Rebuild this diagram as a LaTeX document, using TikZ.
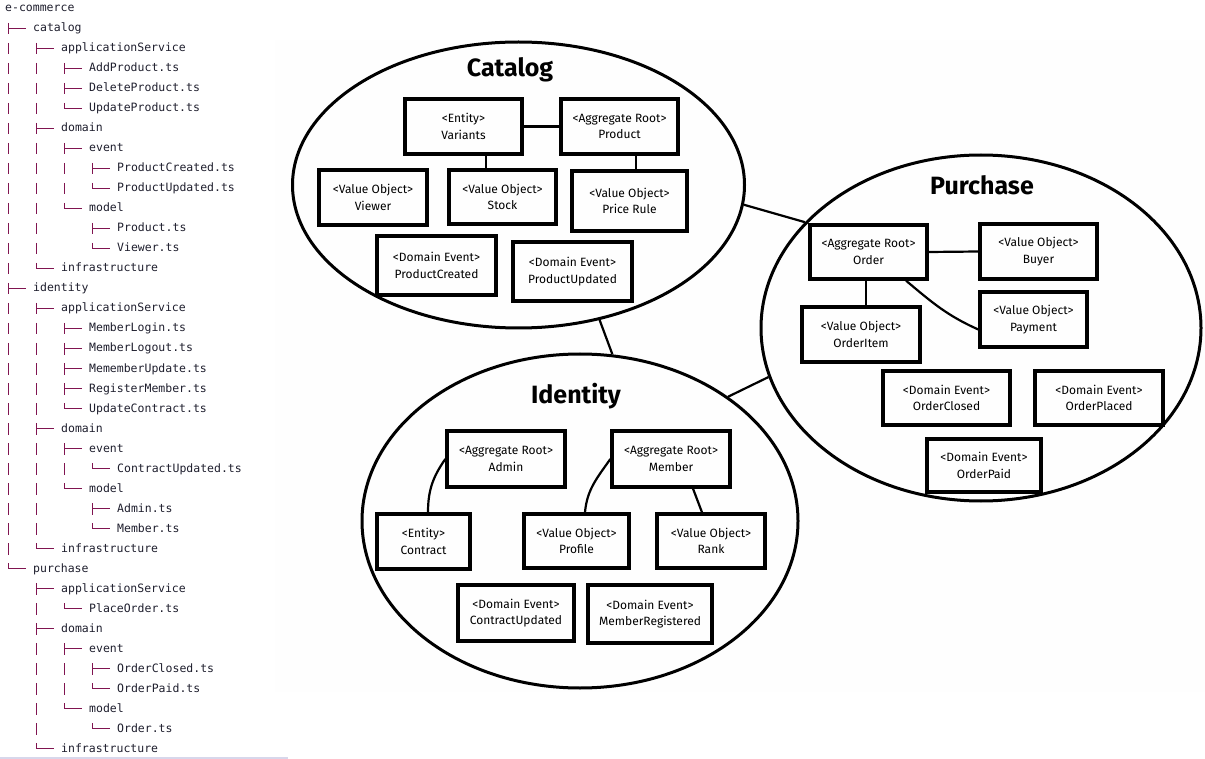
\documentclass[tikz,border=0pt]{standalone}
\usepackage{fontspec}
\setmainfont{Fira Sans}
\newfontfamily\treefont{DejaVu Sans Mono}
\usetikzlibrary{shapes.geometric,calc}
\definecolor{treecol}{RGB}{128,20,80}
\definecolor{txtcol}{RGB}{30,30,45}
\definecolor{bgcol}{RGB}{254,254,254}
\definecolor{rulecol}{RGB}{215,215,235}
\tikzset{
 treeline/.style={draw=treecol, line width=0.9pt},
 treetext/.style={anchor=base west, inner sep=0pt, font=\treefont\fontsize{11.5}{13}\selectfont, text=txtcol},
 box/.style={draw, line width=3.3pt, align=center, inner sep=0pt, font=\fontsize{12}{16.5}\selectfont},
 ctx/.style={ellipse, draw, line width=3pt, inner sep=0pt},
 conn/.style={line width=2.2pt},
 ttl/.style={font=\bfseries\fontsize{25}{28}\selectfont, inner sep=0pt, anchor=base}
}
\newcommand\tvb[2]{\draw[treeline] ({28*#1-20},{-20*#2-3}) -- ++(0,-11.5);}
\newcommand\tbr[2]{\draw[treeline] ({28*#1-20},{-20*#2-3}) -- ++(0,-11.5) ({28*#1-20},{-20*#2-8}) -- ++(18,0);}
\newcommand\tla[2]{\draw[treeline] ({28*#1-20},{-20*#2-3}) -- ({28*#1-20},{-20*#2-8}) -- ++(18,0);}
\newcommand\tlab[3]{\node[treetext] (t#2) at ({28*#1+5},{-20*#2-12}) {#3};}
\begin{document}
\begin{tikzpicture}[x=1pt,y=1pt]
\useasboundingbox (0,0) rectangle (1205,-759);
\fill[bgcol] (275,-40) rectangle (1205,-692);
\draw[rulecol, line width=1.5pt] (0,-758) -- (288,-758);
% ---------- tree ----------
\node[treetext] (t0) at (5,-12) {e-commerce};
\tbr{1}{1}\tlab{1}{1}{catalog}
\tvb{1}{2}\tbr{2}{2}\tlab{2}{2}{applicationService}
\tvb{1}{3}\tvb{2}{3}\tbr{3}{3}\tlab{3}{3}{AddProduct.ts}
\tvb{1}{4}\tvb{2}{4}\tbr{3}{4}\tlab{3}{4}{DeleteProduct.ts}
\tvb{1}{5}\tvb{2}{5}\tla{3}{5}\tlab{3}{5}{UpdateProduct.ts}
\tvb{1}{6}\tbr{2}{6}\tlab{2}{6}{domain}
\tvb{1}{7}\tvb{2}{7}\tbr{3}{7}\tlab{3}{7}{event}
\tvb{1}{8}\tvb{2}{8}\tvb{3}{8}\tbr{4}{8}\tlab{4}{8}{ProductCreated.ts}
\tvb{1}{9}\tvb{2}{9}\tvb{3}{9}\tla{4}{9}\tlab{4}{9}{ProductUpdated.ts}
\tvb{1}{10}\tvb{2}{10}\tla{3}{10}\tlab{3}{10}{model}
\tvb{1}{11}\tvb{2}{11}\tbr{4}{11}\tlab{4}{11}{Product.ts}
\tvb{1}{12}\tvb{2}{12}\tla{4}{12}\tlab{4}{12}{Viewer.ts}
\tvb{1}{13}\tla{2}{13}\tlab{2}{13}{infrastructure}
\tbr{1}{14}\tlab{1}{14}{identity}
\tvb{1}{15}\tbr{2}{15}\tlab{2}{15}{applicationService}
\tvb{1}{16}\tvb{2}{16}\tbr{3}{16}\tlab{3}{16}{MemberLogin.ts}
\tvb{1}{17}\tvb{2}{17}\tbr{3}{17}\tlab{3}{17}{MemberLogout.ts}
\tvb{1}{18}\tvb{2}{18}\tbr{3}{18}\tlab{3}{18}{MememberUpdate.ts}
\tvb{1}{19}\tvb{2}{19}\tbr{3}{19}\tlab{3}{19}{RegisterMember.ts}
\tvb{1}{20}\tvb{2}{20}\tla{3}{20}\tlab{3}{20}{UpdateContract.ts}
\tvb{1}{21}\tbr{2}{21}\tlab{2}{21}{domain}
\tvb{1}{22}\tvb{2}{22}\tbr{3}{22}\tlab{3}{22}{event}
\tvb{1}{23}\tvb{2}{23}\tvb{3}{23}\tla{4}{23}\tlab{4}{23}{ContractUpdated.ts}
\tvb{1}{24}\tvb{2}{24}\tla{3}{24}\tlab{3}{24}{model}
\tvb{1}{25}\tvb{2}{25}\tbr{4}{25}\tlab{4}{25}{Admin.ts}
\tvb{1}{26}\tvb{2}{26}\tla{4}{26}\tlab{4}{26}{Member.ts}
\tvb{1}{27}\tla{2}{27}\tlab{2}{27}{infrastructure}
\tla{1}{28}\tlab{1}{28}{purchase}
\tbr{2}{29}\tlab{2}{29}{applicationService}
\tvb{2}{30}\tla{3}{30}\tlab{3}{30}{PlaceOrder.ts}
\tbr{2}{31}\tlab{2}{31}{domain}
\tvb{2}{32}\tbr{3}{32}\tlab{3}{32}{event}
\tvb{2}{33}\tvb{3}{33}\tbr{4}{33}\tlab{4}{33}{OrderClosed.ts}
\tvb{2}{34}\tvb{3}{34}\tla{4}{34}\tlab{4}{34}{OrderPaid.ts}
\tvb{2}{35}\tla{3}{35}\tlab{3}{35}{model}
\tvb{2}{36}\tla{4}{36}\tlab{4}{36}{Order.ts}
\tla{2}{37}\tlab{2}{37}{infrastructure}
% ---------- contexts ----------
\node[ctx, minimum width=452pt, minimum height=286pt] (cat) at (518.5,-185) {};
\node[ctx, minimum width=440pt, minimum height=346pt] (pur) at (981,-328) {};
\node[ctx, minimum width=436pt, minimum height=334pt] (ide) at (580,-521) {};
\draw[conn] (cat.-5) -- (pur.149);
\draw[conn] (cat.-59) -- (ide.79);
\draw[conn] (ide.40) -- (pur.193);
\node[ttl] (cattitle) at (510,-77) {Catalog};
\node[ttl] (purtitle) at (982,-195) {Purchase};
\node[ttl] (idetitle) at (576,-403) {Identity};
% ---------- catalog ----------
\node[box, minimum width=117pt, minimum height=55pt] (variants) at (463.5,-126.5) {<Entity>\\Variants};
\node[box, minimum width=117pt, minimum height=55pt] (product) at (619.5,-126.5) {<Aggregate Root>\\Product};
\node[box, minimum width=108pt, minimum height=55pt] (viewer) at (373,-197.5) {<Value Object>\\Viewer};
\node[box, minimum width=107pt, minimum height=54pt] (stock) at (502.5,-197) {<Value Object>\\Stock};
\node[box, minimum width=115pt, minimum height=60pt] (price) at (629.5,-201) {<Value Object>\\Price Rule};
\node[box, minimum width=119pt, minimum height=59pt] (pcreated) at (436.5,-265.5) {<Domain Event>\\ProductCreated};
\node[box, minimum width=119pt, minimum height=59pt] (pupdated) at (572.5,-271.5) {<Domain Event>\\ProductUpdated};
\coordinate (vsx) at (486,0);
\coordinate (ppx) at (636,0);
\draw[conn] (variants.east) -- (product.west);
\draw[conn] (variants.south -| vsx) -- (stock.north -| vsx);
\draw[conn] (product.south -| ppx) -- (price.north -| ppx);
% ---------- purchase ----------
\node[box, minimum width=117pt, minimum height=54pt] (order) at (868.5,-252) {<Aggregate Root>\\Order};
\node[box, minimum width=117pt, minimum height=55pt] (buyer) at (1038.5,-251.5) {<Value Object>\\Buyer};
\node[box, minimum width=118pt, minimum height=55pt] (orderitem) at (861,-334.5) {<Value Object>\\OrderItem};
\node[box, minimum width=107pt, minimum height=55pt] (payment) at (1033.5,-319.5) {<Value Object>\\Payment};
\node[box, minimum width=127pt, minimum height=54pt] (oclosed) at (946.5,-398) {<Domain Event>\\OrderClosed};
\node[box, minimum width=128pt, minimum height=54pt] (oplaced) at (1099,-398) {<Domain Event>\\OrderPlaced};
\node[box, minimum width=114pt, minimum height=53pt] (opaid) at (984,-465.5) {<Domain Event>\\OrderPaid};
\coordinate (oix) at (866,0);
\coordinate (opx) at (906,0);
\draw[conn] (order.east) -- (buyer.west);
\draw[conn] (order.south -| oix) -- (orderitem.north -| oix);
\draw[conn] (order.south -| opx) to[out=-40,in=156] ($(payment.west)+(0,-10)$);
% ---------- identity ----------
\node[box, minimum width=118pt, minimum height=56pt] (admin) at (506,-459) {<Aggregate Root>\\Admin};
\node[box, minimum width=118pt, minimum height=56pt] (member) at (671,-459) {<Aggregate Root>\\Member};
\node[box, minimum width=93pt, minimum height=55pt] (contract) at (423.5,-541.5) {<Entity>\\Contract};
\node[box, minimum width=105pt, minimum height=54pt] (profile) at (576.5,-541) {<Value Object>\\Profile};
\node[box, minimum width=108pt, minimum height=54pt] (rank) at (711,-541) {<Value Object>\\Rank};
\node[box, minimum width=116pt, minimum height=56pt] (cupdated) at (516,-613) {<Domain Event>\\ContractUpdated};
\node[box, minimum width=124pt, minimum height=58pt] (mregistered) at (650,-614) {<Domain Event>\\MemberRegistered};
\coordinate (ctx) at (428,0);
\coordinate (pfx) at (585,0);
\coordinate (mrx) at (693,0);
\coordinate (rkx) at (702,0);
\draw[conn] (admin.west) to[out=235,in=90] (contract.north -| ctx);
\draw[conn] (member.west) to[out=235,in=85] (profile.north -| pfx);
\draw[conn] (member.south -| mrx) -- (rank.north -| rkx);
\end{tikzpicture}
\end{document}
